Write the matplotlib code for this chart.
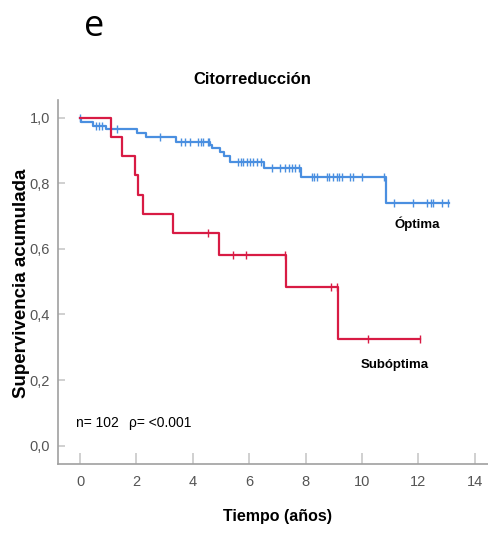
import matplotlib
matplotlib.use("Agg")
import matplotlib.pyplot as plt
import numpy as np

# ---- data ----
times_opt = [0.0, 0.04, 0.47, 0.91, 2.01, 2.33, 3.40, 4.61, 4.69, 4.96, 5.12, 5.32, 6.52, 7.84, 10.85]
surv_opt = [1.0, 0.988, 0.976, 0.965, 0.952, 0.940, 0.927, 0.917, 0.908, 0.896, 0.883, 0.864, 0.846, 0.819, 0.739]
end_opt = 13.08
cens_opt = [0.0, 0.56, 0.67, 0.77, 1.30, 2.84, 3.58, 3.72, 3.90, 4.20, 4.29, 4.37, 4.53, 4.57,
            5.61, 5.70, 5.79, 5.91, 6.03, 6.15, 6.27, 6.42, 6.80, 7.09, 7.27, 7.41, 7.51, 7.62, 7.78,
            8.22, 8.30, 8.39, 8.75, 8.83, 8.98, 9.10, 9.19, 9.28, 9.57, 9.67, 9.99, 10.78,
            11.13, 11.82, 12.29, 12.45, 12.53, 12.83, 13.06]

times_sub = [0.0, 1.10, 1.50, 1.95, 2.04, 2.22, 3.31, 4.92, 7.30, 9.16]
surv_sub = [1.0, 0.941, 0.882, 0.824, 0.765, 0.706, 0.647, 0.582, 0.485, 0.324]
end_sub = 12.06
cens_sub = [4.55, 5.41, 5.87, 7.28, 8.90, 9.12, 10.20, 12.06]

x_ticks = [0, 2, 4, 6, 8, 10, 12, 14]
y_ticks = [0.0, 0.2, 0.4, 0.6, 0.8, 1.0]
y_tick_labels = ["0,0", "0,2", "0,4", "0,6", "0,8", "1,0"]

BLUE = "#4A8FE0"
RED = "#D81B44"
FONT = ["Liberation Sans", "DejaVu Sans"]

fig = plt.figure(figsize=(4.88, 5.33), dpi=100)
ax = fig.add_axes([0.1195, 0.1295, 0.8805, 0.683])


def km(ax, times, surv, end, cens, color):
    t = list(times) + [end]
    s = list(surv) + [surv[-1]]
    ax.step(t, s, where="post", color=color, lw=1.6, zorder=3)
    ct = np.array(cens)
    idx = np.searchsorted(np.array(times), ct, side="right") - 1
    cs = np.array(surv)[idx]
    ax.plot(ct, cs, linestyle="none", marker="|", markersize=6, mew=1.0, color=color, zorder=3)


km(ax, times_opt, surv_opt, end_opt, cens_opt, BLUE)
km(ax, times_sub, surv_sub, end_sub, cens_sub, RED)

ax.set_xlim(-0.77, 14.47)
ax.set_ylim(-0.056, 1.054)
ax.set_xticks(x_ticks)
ax.set_xticklabels([str(v) for v in x_ticks], family=FONT, fontsize=10.5, color="#555555")
ax.set_yticks(y_ticks)
ax.set_yticklabels(y_tick_labels, family=FONT, fontsize=10.5, color="#555555")
ax.tick_params(axis="x", direction="in", length=8, width=1.2, color="#c8c8c8", pad=8)
ax.tick_params(axis="y", direction="in", length=5, width=1.2, color="#c8c8c8", pad=6)
for sp in ["top", "right"]:
    ax.spines[sp].set_visible(False)
for sp in ["left", "bottom"]:
    ax.spines[sp].set_color("#a0a0a0")
    ax.spines[sp].set_linewidth(1.2)

ax.set_xlabel("Tiempo (años)", family=FONT, fontsize=11.5, fontweight="bold")
ax.xaxis.set_label_coords(0.509, -0.125)
ax.set_ylabel("Supervivencia acumulada", family=FONT, fontsize=13.5, fontweight="bold")
ax.yaxis.set_label_coords(-0.066, 0.497)

ax.text(11.95, 0.675, "Óptima", family=FONT, fontsize=9.5, fontweight="bold", ha="center", va="center")
ax.text(11.15, 0.245, "Subóptima", family=FONT, fontsize=9.5, fontweight="bold", ha="center", va="center")
ax.text(-0.14, 0.07, "n= 102", family=FONT, fontsize=10, ha="left", va="center")
ax.text(1.74, 0.07, "ρ= <0.001", family=FONT, fontsize=10, ha="left", va="center")

fig.text(252.7 / 488, 1 - 80 / 533, "Citorreducción", family=FONT, fontsize=12, fontweight="bold",
         ha="center", va="center")
fig.text(94 / 488, 1 - 27 / 533, "e", family=["Open Sans", "DejaVu Sans"], fontsize=26,
         ha="center", va="center")

fig.savefig("out.png", dpi=100)
